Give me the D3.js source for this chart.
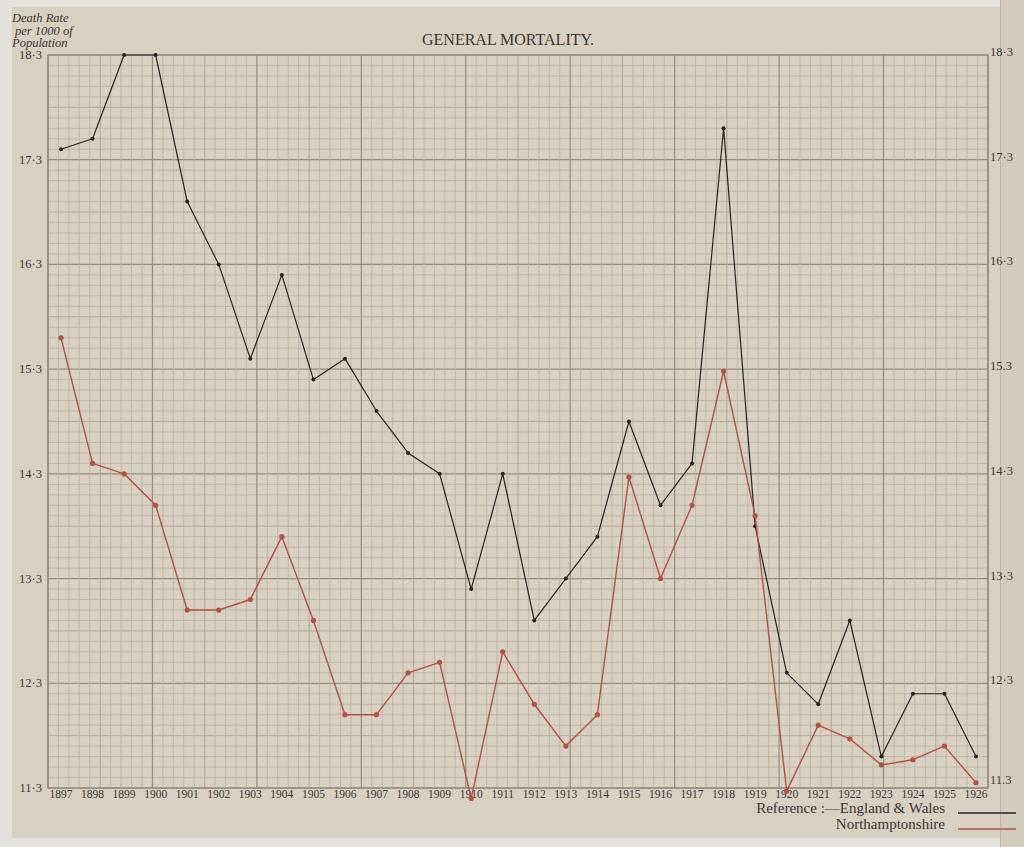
<!DOCTYPE html>
<html>
<head>
<meta charset="utf-8">
<script src="https://cdn.jsdelivr.net/npm/d3@7"></script>
<style>
  html, body { margin: 0; padding: 0; background: #e3e1dc; }
  svg { display: block; }
</style>
</head>
<body>
<svg id="chart" width="1024" height="847"></svg>
<script>
// ---- data ----
const years = d3.range(1897, 1927);
const englandWales = [17.4, 17.5, 18.3, 18.3, 16.9, 16.3, 15.4, 16.2, 15.2, 15.4,
                      14.9, 14.5, 14.3, 13.2, 14.3, 12.9, 13.3, 13.7, 14.8, 14.0,
                      14.4, 17.6, 13.8, 12.4, 12.1, 12.9, 11.6, 12.2, 12.2, 11.6];
const northants =    [15.6, 14.4, 14.3, 14.0, 13.0, 13.0, 13.1, 13.7, 12.9, 12.0,
                      12.0, 12.4, 12.5, 11.2, 12.6, 12.1, 11.7, 12.0, 14.27, 13.3,
                      14.0, 15.28, 13.9, 11.27, 11.9, 11.77, 11.52, 11.57, 11.7, 11.35];
const yTicks = [18.3, 17.3, 16.3, 15.3, 14.3, 13.3, 12.3, 11.3];
const leftTickLabels  = ["18·3", "17·3", "16·3", "15·3", "14·3", "13·3", "12·3", "11·3"];
const rightTickLabels = ["18·3", "17·3", "16·3", "15.3", "14·3", "13·3", "12·3", "11.3"];
const title = "GENERAL MORTALITY.";
const yAxisTitle = ["Death Rate", "per 1000 of", "Population"];
const legendLabels = ["Reference :—England & Wales", "Northamptonshire"];

// ---- layout ----
const svg = d3.select("#chart");
const plot = { left: 48, right: 988, top: 55, bottom: 788 };
const x = d3.scaleLinear().domain([1897, 1926]).range([61, 976]);
const y = d3.scaleLinear().domain([11.3, 18.3]).range([plot.bottom, plot.top]);
const gx = d3.scaleLinear().domain([0, 90]).range([plot.left, plot.right]);
const serif = "'Liberation Serif', 'DejaVu Serif', serif";
const ink = "#3b3631";

// paper
svg.append("rect").attr("x", 12).attr("y", 7).attr("width", 990).attr("height", 831)
  .attr("fill", "#d8d0c1");
svg.append("rect").attr("x", 1000).attr("y", 0).attr("width", 24).attr("height", 847)
  .attr("fill", "#d3cbbd");
svg.append("line").attr("x1", 1000.5).attr("x2", 1000.5).attr("y1", 0).attr("y2", 847)
  .attr("stroke", "#bdb5a8").attr("stroke-width", 1);

// grid
const styles = {
  major: { c: "#978c7e", w: 1.2 },
  mid:   { c: "#aea395", w: 0.9 },
  minor: { c: "#bdb3a5", w: 0.8 }
};
const grid = svg.append("g");
d3.range(0, 71).forEach(i => {
  const s = styles[i % 10 === 0 ? "major" : (i % 5 === 0 ? "mid" : "minor")];
  const v = 11.3 + i / 10;
  grid.append("line")
    .attr("x1", plot.left).attr("x2", plot.right)
    .attr("y1", y(v)).attr("y2", y(v))
    .attr("stroke", s.c).attr("stroke-width", s.w);
});
d3.range(0, 91).forEach(i => {
  const s = styles[i % 10 === 0 ? "major" : (i % 5 === 0 ? "mid" : "minor")];
  grid.append("line")
    .attr("x1", gx(i)).attr("x2", gx(i))
    .attr("y1", plot.top).attr("y2", plot.bottom)
    .attr("stroke", s.c).attr("stroke-width", s.w);
});
grid.append("rect").attr("x", plot.left).attr("y", plot.top)
  .attr("width", plot.right - plot.left).attr("height", plot.bottom - plot.top)
  .attr("fill", "none").attr("stroke", "#8f8477").attr("stroke-width", 1.2);

// y tick labels
svg.append("g").selectAll("text").data(yTicks).join("text")
  .attr("x", 42).attr("y", d => y(d) + 4)
  .attr("text-anchor", "end").attr("font-family", serif).attr("font-size", 12.5)
  .attr("fill", ink).text((d, i) => leftTickLabels[i]);
svg.append("g").selectAll("text").data(yTicks).join("text")
  .attr("x", 990).attr("y", (d, i) => y(d) + (i === yTicks.length - 1 ? -4 : 1))
  .attr("text-anchor", "start").attr("font-family", serif).attr("font-size", 12.5)
  .attr("fill", ink).text((d, i) => rightTickLabels[i]);

// x tick labels
svg.append("g").selectAll("text").data(years).join("text")
  .attr("x", d => x(d)).attr("y", 798)
  .attr("text-anchor", "middle").attr("font-family", serif).attr("font-size", 11.5)
  .attr("fill", ink).text(d => d);

// title
svg.append("text").attr("x", 508).attr("y", 45).attr("text-anchor", "middle")
  .attr("font-family", serif).attr("font-size", 16).attr("fill", ink).text(title);

// axis title (italic)
const at = svg.append("g");
[[12, 22], [15, 35], [12, 47]].forEach((p, i) => {
  at.append("text").attr("x", p[0]).attr("y", p[1])
    .attr("font-family", serif).attr("font-style", "italic").attr("font-size", 12.5)
    .attr("fill", ink).text(yAxisTitle[i]);
});

// series
const line = d3.line().x((d, i) => x(years[i])).y(d => y(d));
const series = [
  { values: englandWales, color: "#262321", width: 1.2, r: 2 },
  { values: northants, color: "#b2514a", width: 1.4, r: 2.6 }
];
series.forEach(s => {
  svg.append("path").datum(s.values).attr("d", line)
    .attr("fill", "none").attr("stroke", s.color).attr("stroke-width", s.width)
    .attr("stroke-linejoin", "round");
  svg.append("g").selectAll("circle").data(s.values).join("circle")
    .attr("cx", (d, i) => x(years[i])).attr("cy", d => y(d)).attr("r", s.r)
    .attr("fill", s.color);
});

// legend
const legendY = [813, 829];
legendLabels.forEach((t, i) => {
  svg.append("text").attr("x", 945).attr("y", legendY[i]).attr("text-anchor", "end")
    .attr("font-family", serif).attr("font-size", 15).attr("fill", ink).text(t);
  svg.append("line").attr("x1", 958).attr("x2", 1016)
    .attr("y1", legendY[i]).attr("y2", legendY[i])
    .attr("stroke", series[i].color).attr("stroke-width", 1.3);
});
</script>
</body>
</html>
